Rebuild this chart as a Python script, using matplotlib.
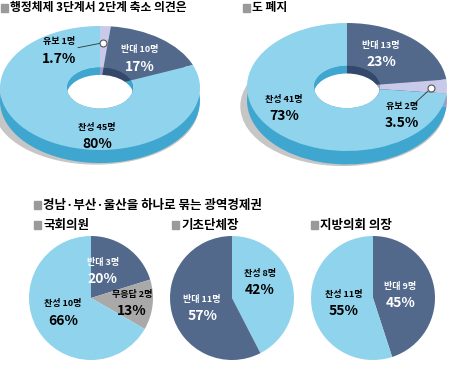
import matplotlib.pyplot as plt
from matplotlib.patches import Ellipse, Rectangle

plt.rcParams['font.family'] = ['Noto Sans CJK KR', 'DejaVu Sans']

# data
q1_names = ['유보 1명', '반대 10명', '찬성 45명']
q1_pcts = [1.7, 17, 80]
q2_names = ['반대 13명', '유보 2명', '찬성 41명']
q2_pcts = [23, 3.5, 73]
p1_names = ['반대 3명', '무응답 2명', '찬성 10명']
p1_pcts = [20, 13, 66]
p2_names = ['찬성 8명', '반대 11명']
p2_pcts = [42, 57]
p3_names = ['반대 9명', '찬성 11명']
p3_pcts = [45, 55]

# colours
YES, YES_SIDE = '#8fd3ec', '#3fa6cf'
NO, NO_SIDE = '#53698c', '#33486a'
HOLD, HOLD_SIDE = '#c9c9ea', '#9d9dcb'
NA = '#a9a9a9'
SQ = '#9a9a9a'

W, H = 469, 382
fig = plt.figure(figsize=(W / 100, H / 100), dpi=100)


def px_axes(x0, y0, w, h):
    return fig.add_axes([x0 / W, 1 - (y0 + h) / H, w / W, h / H])


def title(x, y, s, size=8.5):
    fig.add_artist(Rectangle((x / W, 1 - (y + 4) / H), 7 / W, 8 / H,
                             transform=fig.transFigure, color=SQ))
    fig.text((x + 9) / W, 1 - y / H, s, fontsize=size, weight='bold',
             va='center', ha='left')


def labels(ax, names, pcts, spots, cols):
    for n, p, (x, y), c in zip(names, pcts, spots, cols):
        ax.annotate(n, (x, y), xytext=(0, 6), textcoords='offset points',
                    ha='center', va='center', fontsize=6.5, weight='bold', color=c)
        ax.annotate(f'{p:g}%', (x, y), xytext=(0, -6), textcoords='offset points',
                    ha='center', va='center', fontsize=10, weight='bold', color=c)


def donut(ax, sizes, tops, sides, t=0.21):
    # soft floor shadow, then the side wall, then the top face and the hole
    ax.add_patch(Ellipse((-0.04, -0.3), 2.04, 1.85, color='#c6c6c6', zorder=0, clip_on=False))
    ax.pie(sizes, colors=sides, startangle=90, counterclock=False, center=(0, -t),
           wedgeprops=dict(zorder=1, clip_on=False))
    ax.pie(sizes, colors=tops, startangle=90, counterclock=False,
           wedgeprops=dict(width=0.67, zorder=2, clip_on=False))
    ax.pie(sizes, colors=sides, startangle=90, counterclock=False, radius=0.33,
           wedgeprops=dict(zorder=3))
    clip = Ellipse((0, 0), 0.66, 0.66, transform=ax.transData)
    hole = Ellipse((0, -0.13), 0.66, 0.66, color='white', zorder=4)
    ax.add_patch(hole)
    hole.set_clip_path(clip)
    ax.set_aspect('auto')
    ax.set_xlim(-1, 1)
    ax.set_ylim(-1, 1)
    ax.axis('off')


def leader(ax, x0, y0, x1, y1):
    ax.plot([x0, x1], [y0, y1], color='#333333', lw=0.6, zorder=5)
    ax.plot(x1, y1, 'o', ms=5, mfc='white', mec='#555555', mew=0.8, zorder=6)


def flat_pie(ax, sizes, cols):
    ax.pie(sizes, colors=cols, startangle=90, counterclock=False)
    ax.set_xlim(-1, 1)
    ax.set_ylim(-1, 1)
    ax.axis('off')


# top left donut
ax1 = px_axes(0, 26, 200, 124)
donut(ax1, q1_pcts, [HOLD, NO, YES], [HOLD_SIDE, NO_SIDE, YES_SIDE])
labels(ax1, q1_names, q1_pcts, [(-0.41, 0.61), (0.40, 0.48), (-0.03, -0.77)],
       ['black', 'white', 'black'])
leader(ax1, -0.22, 0.65, 0.03, 0.73)

# top right donut
ax2 = px_axes(247, 23, 200, 128)
donut(ax2, q2_pcts, [NO, HOLD, YES], [NO_SIDE, HOLD_SIDE, YES_SIDE])
labels(ax2, q2_names, q2_pcts, [(0.34, 0.52), (0.55, -0.44), (-0.63, -0.32)],
       ['white', 'black', 'black'])
leader(ax2, 0.68, -0.25, 0.84, -0.02)

# bottom pies
r = 62
ax3 = px_axes(91 - r, 298 - r, 2 * r, 2 * r)
flat_pie(ax3, p1_pcts, [NO, NA, YES])
labels(ax3, p1_names, p1_pcts, [(0.19, 0.44), (0.66, -0.08), (-0.45, -0.23)],
       ['white', 'black', 'black'])

ax4 = px_axes(232 - r, 298 - r, 2 * r, 2 * r)
flat_pie(ax4, p2_pcts, [YES, NO])
labels(ax4, p2_names, p2_pcts, [(0.45, 0.26), (-0.48, -0.16)], ['black', 'white'])

ax5 = px_axes(373 - r, 298 - r, 2 * r, 2 * r)
flat_pie(ax5, p3_pcts, [NO, YES])
labels(ax5, p3_names, p3_pcts, [(0.44, 0.05), (-0.47, -0.08)], ['white', 'black'])

title(1, 8, '행정체제 3단계서 2단계 축소 의견은')
title(243, 8, '도 폐지')
title(34, 205, '경남·부산·울산을 하나로 묶는 광역경제권', 9)
title(34, 225, '국회의원', 9)
title(172, 225, '기초단체장', 9)
title(311, 225, '지방의회 의장', 9)

fig.savefig('out.png', dpi=100)
